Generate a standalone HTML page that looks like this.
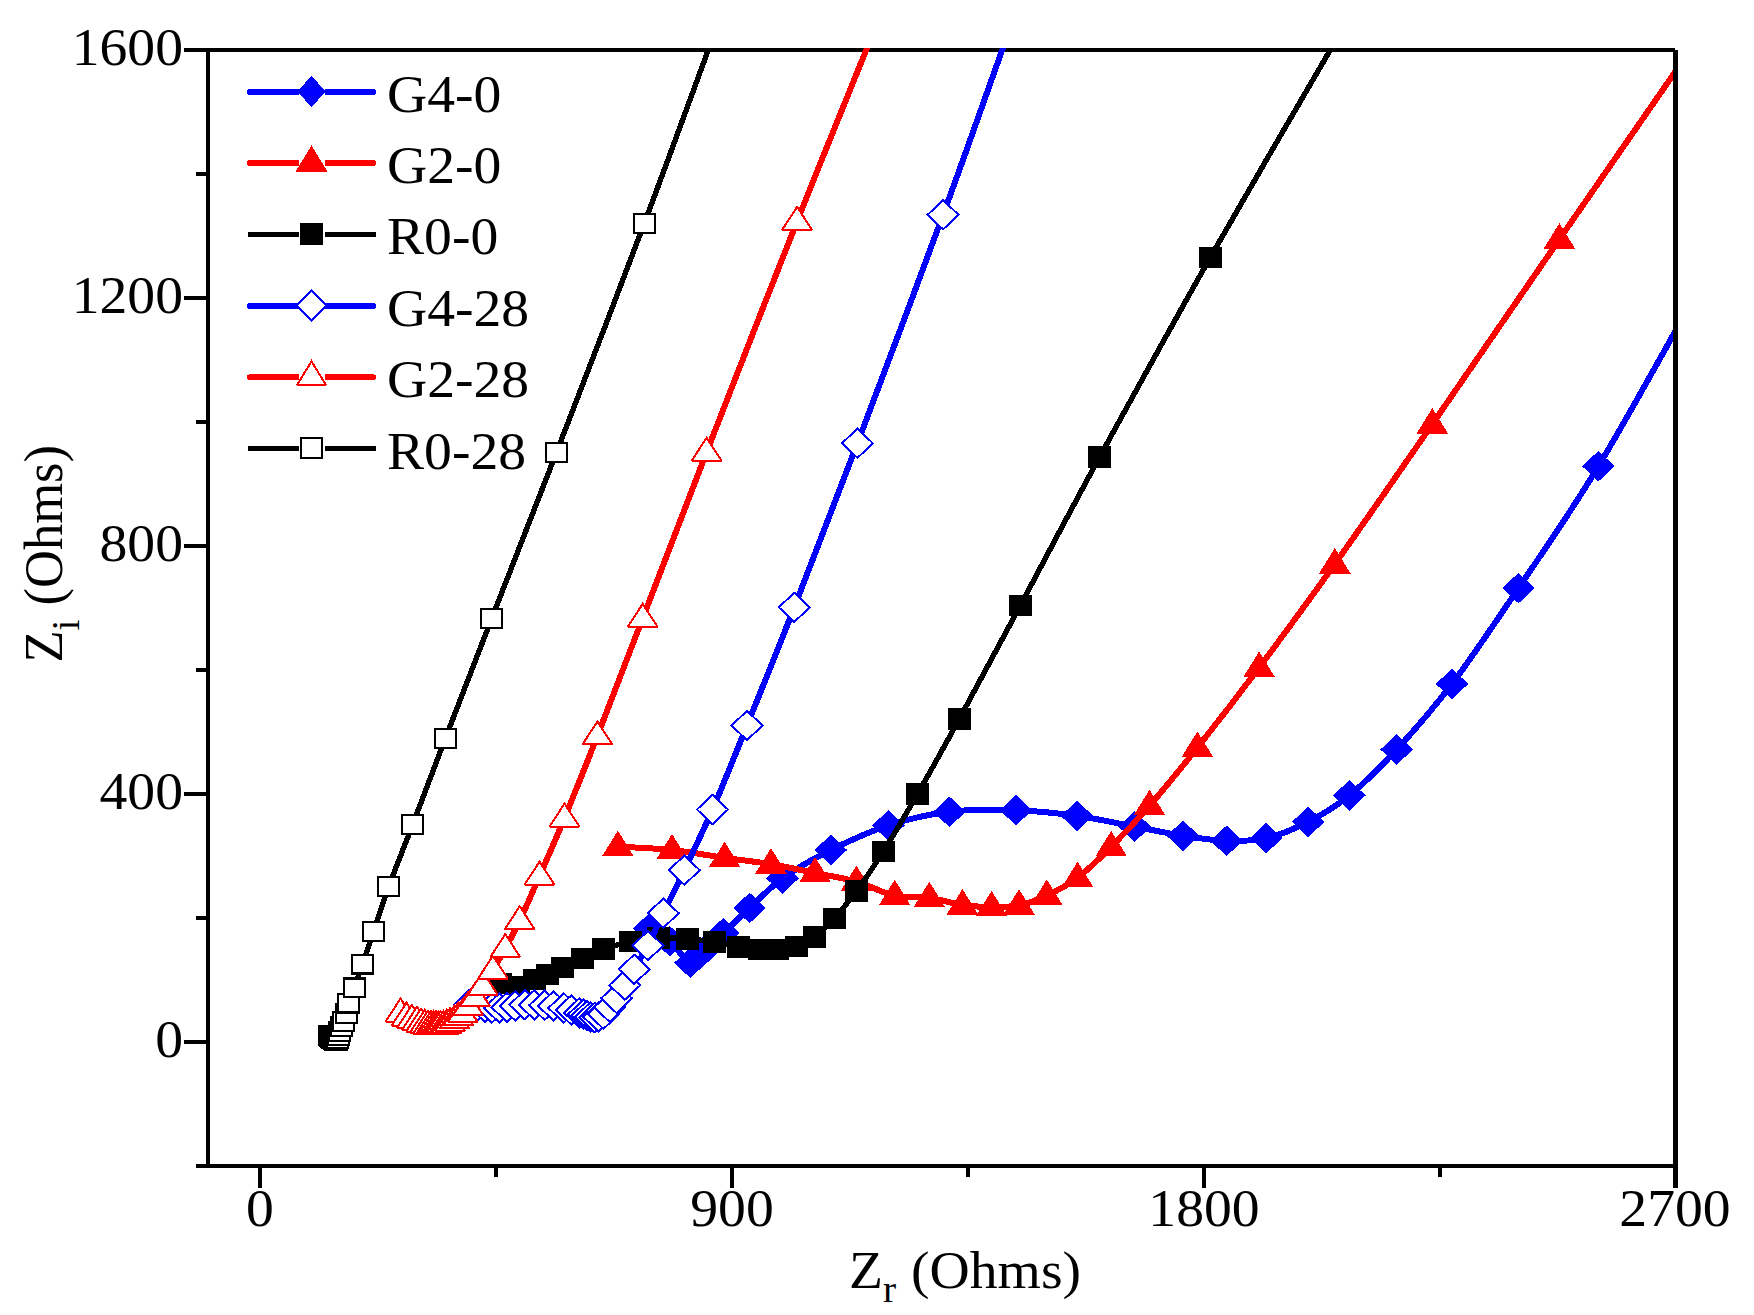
<!DOCTYPE html>
<html lang="en"><head><meta charset="utf-8"><title>Nyquist plot</title>
<style>html,body{margin:0;padding:0;background:#fff}body{width:1754px;height:1315px;overflow:hidden}svg{display:block}text{font-family:"Liberation Serif",serif;fill:#000}</style></head><body>
<svg width="1754" height="1315" viewBox="0 0 1754 1315">
<rect width="1754" height="1315" fill="#fff"/>
<defs><clipPath id="plot"><rect x="208" y="48" width="1467" height="1118"/></clipPath></defs>
<g shape-rendering="crispEdges" fill="#000"><rect x="206" y="48" width="1469" height="4"/></g>
<g clip-path="url(#plot)" shape-rendering="crispEdges">
<g>
<path d="M649 928.7C652.5 930.8 663 935.6 669.9 941.3C676.8 947 684.7 961.3 690.4 962.8C696.1 964.3 698.5 955.5 704 950.5C709.5 945.5 715.8 940.2 723.4 933.1C731 926 739.8 917.1 749.6 908C759.5 898.9 769 888.1 782.5 878.4C796 868.7 813.2 858.8 830.8 850C848.4 841.2 868.5 831.9 888.3 825.5C908.1 819.1 928.1 814.3 949.4 811.8C970.7 809.2 994.7 809.5 1016 810.2C1037.3 810.9 1057.2 813.2 1077 815.9C1096.8 818.6 1117 823.3 1134.7 826.6C1152.4 829.9 1167.7 833.4 1183 835.8C1198.3 838.2 1212.7 840.4 1226.6 840.8C1240.5 841.2 1252.6 841.2 1266.2 838.1C1279.8 835 1294.3 829 1308.2 821.9C1322.1 814.8 1334.7 807.5 1349.4 795.4C1364.2 783.3 1379.6 768.1 1396.7 749.5C1413.8 730.9 1431.7 710.8 1452 683.9C1472.3 657 1494.1 624.4 1518.5 588.1C1542.9 551.8 1568.2 516.4 1598.4 466.2C1628.7 416 1683.1 316.9 1700 287" fill="none" stroke="#0000ff" stroke-width="6" stroke-linejoin="round" stroke-linecap="round"/>
<path d="M632.7 928.7L649 913.4L665.3 928.7L649 944Z" fill="#0000ff"/><path d="M653.6 941.3L669.9 926L686.2 941.3L669.9 956.6Z" fill="#0000ff"/><path d="M674.1 962.8L690.4 947.5L706.7 962.8L690.4 978.1Z" fill="#0000ff"/><path d="M687.7 950.5L704 935.2L720.3 950.5L704 965.8Z" fill="#0000ff"/><path d="M707.1 933.1L723.4 917.8L739.7 933.1L723.4 948.4Z" fill="#0000ff"/><path d="M733.3 908L749.6 892.7L765.9 908L749.6 923.3Z" fill="#0000ff"/><path d="M766.2 878.4L782.5 863.1L798.8 878.4L782.5 893.7Z" fill="#0000ff"/><path d="M814.5 850L830.8 834.7L847.1 850L830.8 865.3Z" fill="#0000ff"/><path d="M872 825.5L888.3 810.2L904.6 825.5L888.3 840.8Z" fill="#0000ff"/><path d="M933.1 811.8L949.4 796.5L965.7 811.8L949.4 827.1Z" fill="#0000ff"/><path d="M999.7 810.2L1016 794.9L1032.3 810.2L1016 825.5Z" fill="#0000ff"/><path d="M1060.7 815.9L1077 800.6L1093.3 815.9L1077 831.2Z" fill="#0000ff"/><path d="M1118.4 826.6L1134.7 811.3L1151 826.6L1134.7 841.9Z" fill="#0000ff"/><path d="M1166.7 835.8L1183 820.5L1199.3 835.8L1183 851.1Z" fill="#0000ff"/><path d="M1210.3 840.8L1226.6 825.5L1242.9 840.8L1226.6 856.1Z" fill="#0000ff"/><path d="M1249.9 838.1L1266.2 822.8L1282.5 838.1L1266.2 853.4Z" fill="#0000ff"/><path d="M1291.9 821.9L1308.2 806.6L1324.5 821.9L1308.2 837.2Z" fill="#0000ff"/><path d="M1333.1 795.4L1349.4 780.1L1365.7 795.4L1349.4 810.7Z" fill="#0000ff"/><path d="M1380.4 749.5L1396.7 734.2L1413 749.5L1396.7 764.8Z" fill="#0000ff"/><path d="M1435.7 683.9L1452 668.6L1468.3 683.9L1452 699.2Z" fill="#0000ff"/><path d="M1502.2 588.1L1518.5 572.8L1534.8 588.1L1518.5 603.4Z" fill="#0000ff"/><path d="M1582.1 466.2L1598.4 450.9L1614.7 466.2L1598.4 481.5Z" fill="#0000ff"/>
</g>
<g>
<path d="M617.9 846.7C626.9 847.2 654.2 848.1 672 850C689.8 851.9 708.1 855.4 724.6 857.8C741.1 860.2 755.9 861.7 771 864.2C786.1 866.7 800.8 870.1 815 873C829.2 875.9 843.1 877.8 856.4 881.6C869.7 885.4 882.6 893.1 894.7 895.8C906.9 898.5 918 896.3 929.3 897.8C940.6 899.4 952 903.6 962.4 905.1C972.8 906.6 982.2 906.9 991.6 906.9C1001 906.9 1009.8 907.2 1019 905.3C1028.2 903.4 1037 900.1 1046.8 895.5C1056.6 890.9 1066.9 885.8 1077.6 877.7C1088.3 869.6 1099.2 858.9 1111.2 846.9C1123.2 834.9 1135.1 822.4 1149.5 805.8C1163.9 789.3 1179.1 770.6 1197.4 747.6C1215.7 724.6 1236.2 698.2 1259.1 667.6C1282 637 1305.9 604.7 1334.8 564.1C1363.7 523.5 1394.9 478.3 1432.3 424.2C1469.7 370.1 1514.8 304 1559.4 239.3C1604 174.6 1676.6 69.9 1700 36" fill="none" stroke="#ff0000" stroke-width="6" stroke-linejoin="round" stroke-linecap="round"/>
<path d="M617.9 830.6L633.7 856.1L602.1 856.1Z" fill="#ff0000"/><path d="M672 833.9L687.8 859.4L656.2 859.4Z" fill="#ff0000"/><path d="M724.6 841.7L740.4 867.2L708.8 867.2Z" fill="#ff0000"/><path d="M771 848.1L786.8 873.6L755.2 873.6Z" fill="#ff0000"/><path d="M815 856.9L830.8 882.4L799.2 882.4Z" fill="#ff0000"/><path d="M856.4 865.5L872.2 891L840.6 891Z" fill="#ff0000"/><path d="M894.7 879.7L910.5 905.2L878.9 905.2Z" fill="#ff0000"/><path d="M929.3 881.7L945.1 907.2L913.5 907.2Z" fill="#ff0000"/><path d="M962.4 889L978.2 914.5L946.6 914.5Z" fill="#ff0000"/><path d="M991.6 890.8L1007.4 916.3L975.8 916.3Z" fill="#ff0000"/><path d="M1019 889.2L1034.8 914.7L1003.2 914.7Z" fill="#ff0000"/><path d="M1046.8 879.4L1062.6 904.9L1031 904.9Z" fill="#ff0000"/><path d="M1077.6 861.6L1093.4 887.1L1061.8 887.1Z" fill="#ff0000"/><path d="M1111.2 830.8L1127 856.3L1095.4 856.3Z" fill="#ff0000"/><path d="M1149.5 789.7L1165.3 815.2L1133.7 815.2Z" fill="#ff0000"/><path d="M1197.4 731.5L1213.2 757L1181.6 757Z" fill="#ff0000"/><path d="M1259.1 651.5L1274.9 677L1243.3 677Z" fill="#ff0000"/><path d="M1334.8 548L1350.6 573.5L1319 573.5Z" fill="#ff0000"/><path d="M1432.3 408.1L1448.1 433.6L1416.5 433.6Z" fill="#ff0000"/><path d="M1559.4 223.2L1575.2 248.7L1543.6 248.7Z" fill="#ff0000"/>
</g>
<g>
<path d="M500.5 983.3C503.4 983.9 512.4 987.6 518 987C523.6 986.4 529.4 981.6 534.3 979.5C539.2 977.4 542.6 976.5 547.3 974.5C552 972.5 556.5 970.3 562.4 967.6C568.3 964.9 575.6 961.4 582.5 958.3C589.4 955.2 595.5 952 603.5 949.2C611.5 946.4 621.5 943.4 630.6 941.5C639.8 939.6 648.9 938.1 658.4 937.7C667.9 937.3 678.2 938.3 687.6 939C697 939.7 706.1 940.6 714.6 941.9C723.1 943.2 731.2 945.5 738.7 946.8C746.2 948.1 753.2 949.1 759.7 949.6C766.2 950.1 771.8 950.1 777.9 949.6C784 949.1 790.1 948.6 796.2 946.5C802.4 944.4 808.5 941.5 814.8 936.8C821.1 932.1 827.2 926.1 834.1 918.5C841 910.9 848.2 902.4 856.4 891.2C864.6 880 873.1 867.6 883.3 851.4C893.5 835.2 904.8 816.1 917.5 794C930.2 771.9 942.2 750.3 959.3 718.9C976.4 687.5 996.9 649.2 1020.3 605.5C1043.7 561.8 1068 514.9 1099.7 456.9C1131.4 398.9 1168.7 330.8 1210.4 257.3C1252.1 183.8 1326.7 56.2 1350 16" fill="none" stroke="#000000" stroke-width="5.4" stroke-linejoin="round" stroke-linecap="round"/>
<rect x="489" y="972.5" width="23" height="21.6" fill="#000000"/><rect x="506.5" y="976.2" width="23" height="21.6" fill="#000000"/><rect x="522.8" y="968.7" width="23" height="21.6" fill="#000000"/><rect x="535.8" y="963.7" width="23" height="21.6" fill="#000000"/><rect x="550.9" y="956.8" width="23" height="21.6" fill="#000000"/><rect x="571" y="947.5" width="23" height="21.6" fill="#000000"/><rect x="592" y="938.4" width="23" height="21.6" fill="#000000"/><rect x="619.1" y="930.7" width="23" height="21.6" fill="#000000"/><rect x="646.9" y="926.9" width="23" height="21.6" fill="#000000"/><rect x="676.1" y="928.2" width="23" height="21.6" fill="#000000"/><rect x="703.1" y="931.1" width="23" height="21.6" fill="#000000"/><rect x="727.2" y="936" width="23" height="21.6" fill="#000000"/><rect x="748.2" y="938.8" width="23" height="21.6" fill="#000000"/><rect x="766.4" y="938.8" width="23" height="21.6" fill="#000000"/><rect x="784.7" y="935.7" width="23" height="21.6" fill="#000000"/><rect x="803.3" y="926" width="23" height="21.6" fill="#000000"/><rect x="822.6" y="907.7" width="23" height="21.6" fill="#000000"/><rect x="844.9" y="880.4" width="23" height="21.6" fill="#000000"/><rect x="871.8" y="840.6" width="23" height="21.6" fill="#000000"/><rect x="906" y="783.2" width="23" height="21.6" fill="#000000"/><rect x="947.8" y="708.1" width="23" height="21.6" fill="#000000"/><rect x="1008.8" y="594.7" width="23" height="21.6" fill="#000000"/><rect x="1088.2" y="446.1" width="23" height="21.6" fill="#000000"/><rect x="1198.9" y="246.5" width="23" height="21.6" fill="#000000"/>
</g>
<g>
<path d="M469 1005C470.3 1005.2 474.3 1006.1 477 1006.5C479.7 1006.9 482.5 1007.2 485 1007.5C487.5 1007.8 489.5 1007.9 491.9 1008C494.3 1008.1 496.9 1008.1 499.4 1008C501.9 1007.9 504.4 1007.6 507 1007.3C509.6 1006.9 512.2 1006.3 515.2 1005.9C518.2 1005.5 521.6 1005 524.8 1004.8C528 1004.6 531 1004.7 534.3 1004.8C537.6 1004.9 541.4 1005.1 544.6 1005.3C547.8 1005.5 550.3 1005.4 553.5 1005.9C556.7 1006.4 560.8 1007.3 563.8 1008C566.8 1008.7 568.7 1009.2 571.3 1010C573.9 1010.8 577.5 1012.1 579.5 1012.8C581.5 1013.5 582.4 1013.8 583.6 1014.2C584.9 1014.7 585.9 1015 587 1015.5C588.1 1016 589.2 1016.5 590.5 1016.9C591.8 1017.2 593.2 1017.6 594.6 1017.6C596 1017.6 597.2 1017.5 598.7 1016.9C600.2 1016.3 601.7 1015.8 603.5 1014.2C605.3 1012.6 607.4 1009.9 609.6 1007.3C611.8 1004.7 614 1002.1 616.5 998.4C619 994.7 621.8 990.1 624.8 985.2C627.8 980.3 630.4 975.8 634.2 969.2C638.1 962.6 643 954.9 647.9 945.6C652.8 936.3 657.2 925.8 663.3 913.2C669.4 900.6 676.1 887.5 684.3 870.2C692.5 852.9 702 833.6 712.5 809.5C723 785.4 733.4 759.2 747 725.5C760.6 691.8 775.9 654.3 794.3 607.3C812.7 560.3 832.6 508.7 857.4 443.3C882.2 377.9 916.8 286.4 943.1 214.8C969.4 143.2 1003 47.5 1015 14" fill="none" stroke="#0000ff" stroke-width="6" stroke-linejoin="round" stroke-linecap="round"/>
<path d="M453.5 1005L469 990.4L484.5 1005L469 1019.6Z" fill="#fff" stroke="#0000ff" stroke-width="2"/><path d="M461.5 1006.5L477 991.9L492.5 1006.5L477 1021.1Z" fill="#fff" stroke="#0000ff" stroke-width="2"/><path d="M469.5 1007.5L485 992.9L500.5 1007.5L485 1022.1Z" fill="#fff" stroke="#0000ff" stroke-width="2"/><path d="M476.4 1008L491.9 993.4L507.4 1008L491.9 1022.6Z" fill="#fff" stroke="#0000ff" stroke-width="2"/><path d="M483.9 1008L499.4 993.4L514.9 1008L499.4 1022.6Z" fill="#fff" stroke="#0000ff" stroke-width="2"/><path d="M491.5 1007.3L507 992.7L522.5 1007.3L507 1021.9Z" fill="#fff" stroke="#0000ff" stroke-width="2"/><path d="M499.7 1005.9L515.2 991.3L530.7 1005.9L515.2 1020.5Z" fill="#fff" stroke="#0000ff" stroke-width="2"/><path d="M509.3 1004.8L524.8 990.2L540.3 1004.8L524.8 1019.4Z" fill="#fff" stroke="#0000ff" stroke-width="2"/><path d="M518.8 1004.8L534.3 990.2L549.8 1004.8L534.3 1019.4Z" fill="#fff" stroke="#0000ff" stroke-width="2"/><path d="M529.1 1005.3L544.6 990.7L560.1 1005.3L544.6 1019.9Z" fill="#fff" stroke="#0000ff" stroke-width="2"/><path d="M538 1005.9L553.5 991.3L569 1005.9L553.5 1020.5Z" fill="#fff" stroke="#0000ff" stroke-width="2"/><path d="M548.3 1008L563.8 993.4L579.3 1008L563.8 1022.6Z" fill="#fff" stroke="#0000ff" stroke-width="2"/><path d="M555.8 1010L571.3 995.4L586.8 1010L571.3 1024.6Z" fill="#fff" stroke="#0000ff" stroke-width="2"/><path d="M564 1012.8L579.5 998.2L595 1012.8L579.5 1027.4Z" fill="#fff" stroke="#0000ff" stroke-width="2"/><path d="M568.1 1014.2L583.6 999.6L599.1 1014.2L583.6 1028.8Z" fill="#fff" stroke="#0000ff" stroke-width="2"/><path d="M571.5 1015.5L587 1000.9L602.5 1015.5L587 1030.1Z" fill="#fff" stroke="#0000ff" stroke-width="2"/><path d="M575 1016.9L590.5 1002.3L606 1016.9L590.5 1031.5Z" fill="#fff" stroke="#0000ff" stroke-width="2"/><path d="M579.1 1017.6L594.6 1003L610.1 1017.6L594.6 1032.2Z" fill="#fff" stroke="#0000ff" stroke-width="2"/><path d="M583.2 1016.9L598.7 1002.3L614.2 1016.9L598.7 1031.5Z" fill="#fff" stroke="#0000ff" stroke-width="2"/><path d="M588 1014.2L603.5 999.6L619 1014.2L603.5 1028.8Z" fill="#fff" stroke="#0000ff" stroke-width="2"/><path d="M594.1 1007.3L609.6 992.7L625.1 1007.3L609.6 1021.9Z" fill="#fff" stroke="#0000ff" stroke-width="2"/><path d="M601 998.4L616.5 983.8L632 998.4L616.5 1013Z" fill="#fff" stroke="#0000ff" stroke-width="2"/><path d="M609.3 985.2L624.8 970.6L640.3 985.2L624.8 999.8Z" fill="#fff" stroke="#0000ff" stroke-width="2"/><path d="M618.7 969.2L634.2 954.6L649.7 969.2L634.2 983.8Z" fill="#fff" stroke="#0000ff" stroke-width="2"/><path d="M632.4 945.6L647.9 931L663.4 945.6L647.9 960.2Z" fill="#fff" stroke="#0000ff" stroke-width="2"/><path d="M647.8 913.2L663.3 898.6L678.8 913.2L663.3 927.8Z" fill="#fff" stroke="#0000ff" stroke-width="2"/><path d="M668.8 870.2L684.3 855.6L699.8 870.2L684.3 884.8Z" fill="#fff" stroke="#0000ff" stroke-width="2"/><path d="M697 809.5L712.5 794.9L728 809.5L712.5 824.1Z" fill="#fff" stroke="#0000ff" stroke-width="2"/><path d="M731.5 725.5L747 710.9L762.5 725.5L747 740.1Z" fill="#fff" stroke="#0000ff" stroke-width="2"/><path d="M778.8 607.3L794.3 592.7L809.8 607.3L794.3 621.9Z" fill="#fff" stroke="#0000ff" stroke-width="2"/><path d="M841.9 443.3L857.4 428.7L872.9 443.3L857.4 457.9Z" fill="#fff" stroke="#0000ff" stroke-width="2"/><path d="M927.6 214.8L943.1 200.2L958.6 214.8L943.1 229.4Z" fill="#fff" stroke="#0000ff" stroke-width="2"/>
</g>
<g>
<path d="M400.5 1013C401.5 1013.7 404.6 1016 406.5 1017.1C408.4 1018.2 410.1 1018.7 411.9 1019.4C413.6 1020.1 415.5 1020.6 417 1021.2C418.5 1021.8 419.7 1022.5 421 1023C422.3 1023.5 423.5 1024 424.7 1024.4C425.9 1024.7 426.9 1024.9 428 1025.1C429.1 1025.3 430.1 1025.4 431 1025.5C431.9 1025.6 432.7 1025.6 433.5 1025.7C434.3 1025.7 435.2 1025.8 436 1025.8C436.8 1025.8 437.6 1025.8 438.3 1025.8C439.1 1025.8 439.6 1025.9 440.5 1025.8C441.4 1025.7 442.6 1025.7 443.6 1025.4C444.7 1025.1 445.7 1024.6 446.8 1024.2C447.9 1023.7 448.7 1023.4 450 1022.7C451.3 1022 453.1 1020.9 454.5 1019.9C455.9 1018.9 456.8 1017.9 458.2 1016.8C459.6 1015.8 461.1 1015.4 462.8 1013.6C464.5 1011.9 466.1 1009 468.2 1006.3C470.2 1003.6 472.7 1001 475.1 997.6C477.5 994.2 479.8 990.8 482.8 986.2C485.8 981.6 489.1 976.5 492.9 970.2C496.6 963.9 500.8 956.8 505.3 948.5C509.8 940.2 514 932.8 519.7 920.7C525.4 908.6 532 893.2 539.5 876.1C547 859 554.9 841.4 564.5 818C574.1 794.6 584.4 769.2 597.4 735.9C610.4 702.6 624.5 665.6 642.7 618.3C660.9 571 680.9 518.4 706.6 452.2C732.3 386 768.2 294 797.1 221.3C826 148.6 866.2 50.2 880 16" fill="none" stroke="#ff0000" stroke-width="6" stroke-linejoin="round" stroke-linecap="round"/>
<path d="M400.5 998.6L415.4 1021.5L385.6 1021.5Z" fill="#fff" stroke="#ff0000" stroke-width="2" stroke-miterlimit="2"/><path d="M406.5 1002.7L421.4 1025.6L391.6 1025.6Z" fill="#fff" stroke="#ff0000" stroke-width="2" stroke-miterlimit="2"/><path d="M411.9 1005L426.8 1027.9L397 1027.9Z" fill="#fff" stroke="#ff0000" stroke-width="2" stroke-miterlimit="2"/><path d="M417 1006.8L431.9 1029.7L402.1 1029.7Z" fill="#fff" stroke="#ff0000" stroke-width="2" stroke-miterlimit="2"/><path d="M421 1008.6L435.9 1031.5L406.1 1031.5Z" fill="#fff" stroke="#ff0000" stroke-width="2" stroke-miterlimit="2"/><path d="M424.7 1010L439.6 1032.9L409.8 1032.9Z" fill="#fff" stroke="#ff0000" stroke-width="2" stroke-miterlimit="2"/><path d="M428 1010.7L442.9 1033.6L413.1 1033.6Z" fill="#fff" stroke="#ff0000" stroke-width="2" stroke-miterlimit="2"/><path d="M431 1011.1L445.9 1034L416.1 1034Z" fill="#fff" stroke="#ff0000" stroke-width="2" stroke-miterlimit="2"/><path d="M433.5 1011.3L448.4 1034.2L418.6 1034.2Z" fill="#fff" stroke="#ff0000" stroke-width="2" stroke-miterlimit="2"/><path d="M436 1011.4L450.9 1034.3L421.1 1034.3Z" fill="#fff" stroke="#ff0000" stroke-width="2" stroke-miterlimit="2"/><path d="M438.3 1011.4L453.2 1034.3L423.4 1034.3Z" fill="#fff" stroke="#ff0000" stroke-width="2" stroke-miterlimit="2"/><path d="M440.5 1011.4L455.4 1034.3L425.6 1034.3Z" fill="#fff" stroke="#ff0000" stroke-width="2" stroke-miterlimit="2"/><path d="M443.6 1011L458.5 1033.9L428.7 1033.9Z" fill="#fff" stroke="#ff0000" stroke-width="2" stroke-miterlimit="2"/><path d="M446.8 1009.8L461.7 1032.7L431.9 1032.7Z" fill="#fff" stroke="#ff0000" stroke-width="2" stroke-miterlimit="2"/><path d="M450 1008.3L464.9 1031.2L435.1 1031.2Z" fill="#fff" stroke="#ff0000" stroke-width="2" stroke-miterlimit="2"/><path d="M454.5 1005.5L469.4 1028.4L439.6 1028.4Z" fill="#fff" stroke="#ff0000" stroke-width="2" stroke-miterlimit="2"/><path d="M458.2 1002.4L473.1 1025.3L443.3 1025.3Z" fill="#fff" stroke="#ff0000" stroke-width="2" stroke-miterlimit="2"/><path d="M462.8 999.2L477.7 1022.1L447.9 1022.1Z" fill="#fff" stroke="#ff0000" stroke-width="2" stroke-miterlimit="2"/><path d="M468.2 991.9L483.1 1014.8L453.3 1014.8Z" fill="#fff" stroke="#ff0000" stroke-width="2" stroke-miterlimit="2"/><path d="M475.1 983.2L490 1006.1L460.2 1006.1Z" fill="#fff" stroke="#ff0000" stroke-width="2" stroke-miterlimit="2"/><path d="M482.8 971.8L497.7 994.7L467.9 994.7Z" fill="#fff" stroke="#ff0000" stroke-width="2" stroke-miterlimit="2"/><path d="M492.9 955.8L507.8 978.7L478 978.7Z" fill="#fff" stroke="#ff0000" stroke-width="2" stroke-miterlimit="2"/><path d="M505.3 934.1L520.2 957L490.4 957Z" fill="#fff" stroke="#ff0000" stroke-width="2" stroke-miterlimit="2"/><path d="M519.7 906.3L534.6 929.2L504.8 929.2Z" fill="#fff" stroke="#ff0000" stroke-width="2" stroke-miterlimit="2"/><path d="M539.5 861.7L554.4 884.6L524.6 884.6Z" fill="#fff" stroke="#ff0000" stroke-width="2" stroke-miterlimit="2"/><path d="M564.5 803.6L579.4 826.5L549.6 826.5Z" fill="#fff" stroke="#ff0000" stroke-width="2" stroke-miterlimit="2"/><path d="M597.4 721.5L612.3 744.4L582.5 744.4Z" fill="#fff" stroke="#ff0000" stroke-width="2" stroke-miterlimit="2"/><path d="M642.7 603.9L657.6 626.8L627.8 626.8Z" fill="#fff" stroke="#ff0000" stroke-width="2" stroke-miterlimit="2"/><path d="M706.6 437.8L721.5 460.7L691.7 460.7Z" fill="#fff" stroke="#ff0000" stroke-width="2" stroke-miterlimit="2"/><path d="M797.1 206.9L812 229.8L782.2 229.8Z" fill="#fff" stroke="#ff0000" stroke-width="2" stroke-miterlimit="2"/>
</g>
<g>
<path d="M329.4 1035.5C329.5 1035.6 329.9 1036 330.2 1036.2C330.5 1036.4 330.7 1036.7 331 1036.9C331.3 1037.1 331.5 1037.4 331.8 1037.6C332.1 1037.8 332.3 1038.1 332.6 1038.3C332.9 1038.5 333.1 1038.8 333.4 1039C333.7 1039.2 333.9 1039.4 334.2 1039.6C334.5 1039.8 334.7 1040 335 1040.1C335.3 1040.2 335.5 1040.4 335.8 1040.4C336.1 1040.4 336.3 1040.5 336.6 1040.2C336.9 1039.9 337.3 1039.1 337.6 1038.4C337.9 1037.7 338.2 1037 338.6 1035.9C339 1034.8 339.4 1033.3 339.9 1031.8C340.3 1030.3 340.7 1028.7 341.3 1027C341.9 1025.3 342.6 1023.8 343.4 1021.6C344.2 1019.4 345.2 1017.1 346.1 1014C347 1010.9 347.4 1007.4 348.8 1003.1C350.2 998.8 352 994.5 354.3 988C356.6 981.5 359.3 973.5 362.5 964.1C365.7 954.8 369.1 944.8 373.5 931.9C377.9 919 382.2 904.6 388.7 886.7C395.2 868.8 403.3 849.2 412.7 824.5C422.1 799.8 432.1 772.8 445.3 738.5C458.5 704.2 473.1 666.4 491.6 618.7C510.1 571 531 518.3 556.5 452.4C582 386.5 617.1 295.5 644.4 223.1C671.6 150.7 707.4 52.2 720 18" fill="none" stroke="#000000" stroke-width="5.4" stroke-linejoin="round" stroke-linecap="round"/>
<rect x="318.9" y="1026" width="20.9" height="18.9" fill="#fff" stroke="#000000" stroke-width="2.1"/><rect x="319.8" y="1026.8" width="20.9" height="18.9" fill="#fff" stroke="#000000" stroke-width="2.1"/><rect x="320.6" y="1027.5" width="20.9" height="18.9" fill="#fff" stroke="#000000" stroke-width="2.1"/><rect x="321.4" y="1028.1" width="20.9" height="18.9" fill="#fff" stroke="#000000" stroke-width="2.1"/><rect x="322.2" y="1028.8" width="20.9" height="18.9" fill="#fff" stroke="#000000" stroke-width="2.1"/><rect x="322.9" y="1029.5" width="20.9" height="18.9" fill="#fff" stroke="#000000" stroke-width="2.1"/><rect x="323.8" y="1030.1" width="20.9" height="18.9" fill="#fff" stroke="#000000" stroke-width="2.1"/><rect x="324.6" y="1030.6" width="20.9" height="18.9" fill="#fff" stroke="#000000" stroke-width="2.1"/><rect x="325.4" y="1031" width="20.9" height="18.9" fill="#fff" stroke="#000000" stroke-width="2.1"/><rect x="326.2" y="1030.8" width="20.9" height="18.9" fill="#fff" stroke="#000000" stroke-width="2.1"/><rect x="327.2" y="1029" width="20.9" height="18.9" fill="#fff" stroke="#000000" stroke-width="2.1"/><rect x="328.2" y="1026.5" width="20.9" height="18.9" fill="#fff" stroke="#000000" stroke-width="2.1"/><rect x="329.4" y="1022.3" width="20.9" height="18.9" fill="#fff" stroke="#000000" stroke-width="2.1"/><rect x="330.9" y="1017.5" width="20.9" height="18.9" fill="#fff" stroke="#000000" stroke-width="2.1"/><rect x="332.9" y="1012.1" width="20.9" height="18.9" fill="#fff" stroke="#000000" stroke-width="2.1"/><rect x="335.7" y="1004.5" width="20.9" height="18.9" fill="#fff" stroke="#000000" stroke-width="2.1"/><rect x="338.4" y="993.6" width="20.9" height="18.9" fill="#fff" stroke="#000000" stroke-width="2.1"/><rect x="343.9" y="978.5" width="20.9" height="18.9" fill="#fff" stroke="#000000" stroke-width="2.1"/><rect x="352.1" y="954.6" width="20.9" height="18.9" fill="#fff" stroke="#000000" stroke-width="2.1"/><rect x="363.1" y="922.4" width="20.9" height="18.9" fill="#fff" stroke="#000000" stroke-width="2.1"/><rect x="378.2" y="877.2" width="20.9" height="18.9" fill="#fff" stroke="#000000" stroke-width="2.1"/><rect x="402.2" y="815" width="20.9" height="18.9" fill="#fff" stroke="#000000" stroke-width="2.1"/><rect x="434.9" y="729" width="20.9" height="18.9" fill="#fff" stroke="#000000" stroke-width="2.1"/><rect x="481.2" y="609.2" width="20.9" height="18.9" fill="#fff" stroke="#000000" stroke-width="2.1"/><rect x="546" y="442.9" width="20.9" height="18.9" fill="#fff" stroke="#000000" stroke-width="2.1"/><rect x="633.9" y="213.7" width="20.9" height="18.9" fill="#fff" stroke="#000000" stroke-width="2.1"/>
</g>
</g>
<g shape-rendering="crispEdges" fill="#000"><rect x="206" y="48" width="4" height="1120"/><rect x="196" y="1164" width="1482" height="4"/><rect x="1673" y="50" width="5" height="1138"/><rect x="184" y="48" width="24" height="4"/><rect x="184" y="296" width="24" height="4"/><rect x="184" y="544" width="24" height="4"/><rect x="184" y="792" width="24" height="4"/><rect x="184" y="1040" width="24" height="4"/><rect x="196" y="172" width="12" height="4"/><rect x="196" y="420" width="12" height="4"/><rect x="196" y="668" width="12" height="4"/><rect x="196" y="916" width="12" height="4"/><rect x="258" y="1166" width="4" height="22"/><rect x="730" y="1166" width="4" height="22"/><rect x="1202" y="1166" width="4" height="22"/><rect x="494" y="1166" width="4" height="11"/><rect x="966" y="1166" width="4" height="11"/><rect x="1438" y="1166" width="4" height="11"/></g>
<text transform="translate(183,64.9) scale(1.012,0.975)" font-size="55" text-anchor="end">1600</text>
<text transform="translate(183,312.9) scale(1.012,0.975)" font-size="55" text-anchor="end">1200</text>
<text transform="translate(183,560.9) scale(1.012,0.975)" font-size="55" text-anchor="end">800</text>
<text transform="translate(183,808.9) scale(1.012,0.975)" font-size="55" text-anchor="end">400</text>
<text transform="translate(183,1056.9) scale(1.012,0.975)" font-size="55" text-anchor="end">0</text>
<text transform="translate(260,1225.6) scale(1.012,0.975)" font-size="55" text-anchor="middle">0</text>
<text transform="translate(732,1225.6) scale(1.012,0.975)" font-size="55" text-anchor="middle">900</text>
<text transform="translate(1204,1225.6) scale(1.012,0.975)" font-size="55" text-anchor="middle">1800</text>
<text transform="translate(1675,1225.6) scale(1.012,0.975)" font-size="55" text-anchor="middle">2700</text>
<text transform="translate(849,1288) scale(1.012,0.975)" font-size="55" text-anchor="start">Z<tspan font-size="39" dy="14">r</tspan><tspan dy="-14" dx="1"> (Ohms)</tspan></text>
<text transform="translate(62.3,662.5) scale(1,0.955) rotate(-90)" font-size="55">Z<tspan font-size="41" dy="17">i</tspan><tspan dy="-17" dx="1"> (Ohms)</tspan></text>
<g shape-rendering="crispEdges">
<path d="M250 92H299M325 92H373" stroke="#0000ff" stroke-width="6" fill="none"/><circle cx="250" cy="92" r="3" fill="#0000ff"/><circle cx="373" cy="92" r="3" fill="#0000ff"/>
<path d="M297.3 91.5L311.5 75.8L325.7 91.5L311.5 107.2Z" fill="#0000ff"/>
<text transform="translate(387,111.9) scale(1.012,0.975)" font-size="55" text-anchor="start">G4-0</text>
<path d="M250 163H299M325 163H373" stroke="#ff0000" stroke-width="6" fill="none"/><circle cx="250" cy="163" r="3" fill="#ff0000"/><circle cx="373" cy="163" r="3" fill="#ff0000"/>
<path d="M311.5 145.4L327.5 171.7L295.5 171.7Z" fill="#ff0000"/>
<text transform="translate(387,182.9) scale(1.012,0.975)" font-size="55" text-anchor="start">G2-0</text>
<path d="M247.5 234.5H299M325 234.5H376" stroke="#000000" stroke-width="5" fill="none"/>
<rect x="300" y="223" width="23" height="22" fill="#000000"/>
<text transform="translate(387,254.4) scale(1.012,0.975)" font-size="55" text-anchor="start">R0-0</text>
<path d="M250 306H299M325 306H373" stroke="#0000ff" stroke-width="6" fill="none"/><circle cx="250" cy="306" r="3" fill="#0000ff"/><circle cx="373" cy="306" r="3" fill="#0000ff"/>
<path d="M296.7 305.5L311.5 290.5L326.3 305.5L311.5 320.5Z" fill="#fff" stroke="#0000ff" stroke-width="2"/>
<text transform="translate(387,325.9) scale(1.012,0.975)" font-size="55" text-anchor="start">G4-28</text>
<path d="M250 377.3H299M325 377.3H373" stroke="#ff0000" stroke-width="6" fill="none"/><circle cx="250" cy="377.3" r="3" fill="#ff0000"/><circle cx="373" cy="377.3" r="3" fill="#ff0000"/>
<path d="M311.5 361.4L326.1 385.1L296.9 385.1Z" fill="#fff" stroke="#ff0000" stroke-width="2" stroke-miterlimit="2"/>
<text transform="translate(387,397.2) scale(1.012,0.975)" font-size="55" text-anchor="start">G2-28</text>
<path d="M247.5 448.7H299M325 448.7H376" stroke="#000000" stroke-width="5" fill="none"/>
<rect x="301.1" y="438.2" width="20.9" height="19.9" fill="#fff" stroke="#000000" stroke-width="2.1"/>
<text transform="translate(387,468.6) scale(1.012,0.975)" font-size="55" text-anchor="start">R0-28</text>
</g>
</svg></body></html>
